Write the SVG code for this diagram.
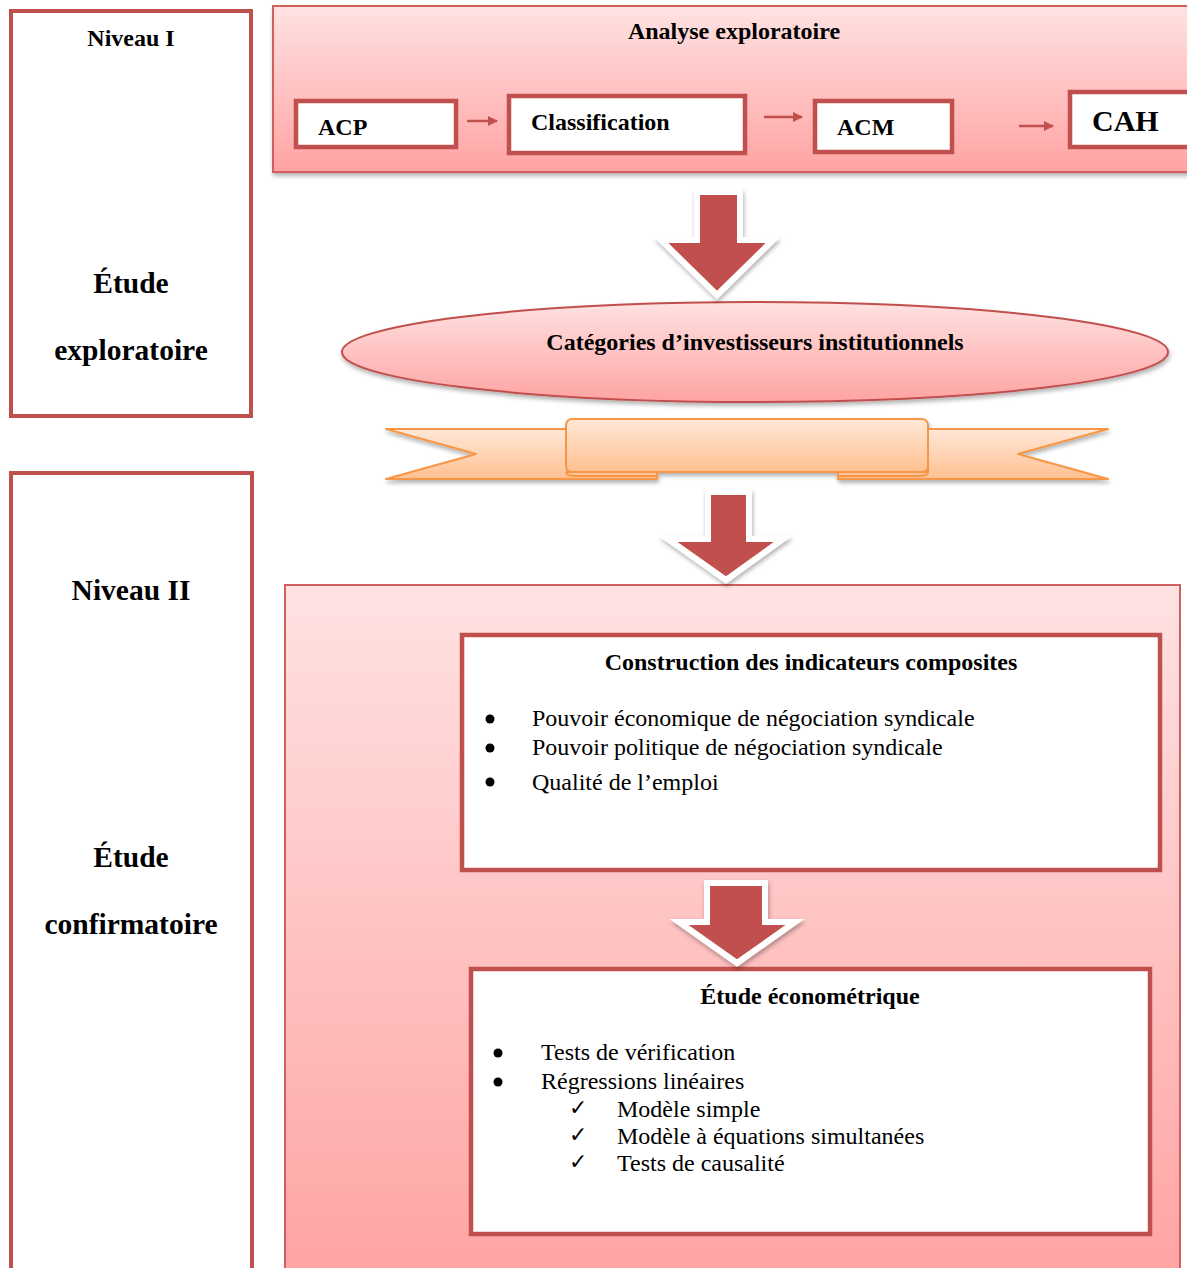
<svg xmlns="http://www.w3.org/2000/svg" width="1187" height="1268" viewBox="0 0 1187 1268">
<defs>
<linearGradient id="pink" x1="0" y1="0" x2="0" y2="1">
<stop offset="0" stop-color="#FFE2E2"/><stop offset="1" stop-color="#FFA3A3"/>
</linearGradient>
<linearGradient id="orange" x1="0" y1="0" x2="0" y2="1">
<stop offset="0" stop-color="#FFE8D8"/><stop offset="1" stop-color="#FFC090"/>
</linearGradient>
<filter id="sh" x="-10%" y="-10%" width="120%" height="130%">
<feDropShadow dx="1" dy="3" stdDeviation="2" flood-color="#000" flood-opacity="0.3"/>
</filter>
<marker id="ah" viewBox="0 0 10 10" refX="9" refY="5" markerWidth="4" markerHeight="4" orient="auto">
<path d="M0,0 L10,5 L0,10 z" fill="#C0504D"/>
</marker>
</defs>
<style>
.frame{fill:#fff;stroke:#C0504D;stroke-width:4}
.panel{fill:url(#pink);stroke:#D0605D;stroke-width:2}
.box{fill:#fff;stroke:#C0504D;stroke-width:4.5}
.t{font-family:"Liberation Serif","Times New Roman",serif;fill:#000}
.b{font-weight:bold}
.small{stroke:#C0504D;stroke-width:2.5;fill:none}
.big{fill:#C0504D;stroke:#fff;stroke-width:6;stroke-linejoin:miter}
.dot{fill:#000}
</style>
<rect width="1187" height="1268" fill="#fff"/>

<g id="niveau1">
<rect class="frame" x="11" y="11" width="240" height="405"/>
<text class="t b" x="131" y="46" font-size="24" text-anchor="middle">Niveau I</text>
<text class="t b" x="131" y="293" font-size="29.5" text-anchor="middle">Étude</text>
<text class="t b" x="131" y="360" font-size="29.5" text-anchor="middle">exploratoire</text>
</g>

<g id="niveau2">
<rect class="frame" x="11" y="473" width="241" height="810"/>
<text class="t b" x="131" y="600" font-size="29.5" text-anchor="middle">Niveau II</text>
<text class="t b" x="131" y="867" font-size="29.5" text-anchor="middle">Étude</text>
<text class="t b" x="131" y="934" font-size="29.5" text-anchor="middle">confirmatoire</text>
</g>

<g id="analyse">
<rect class="panel" x="273" y="6" width="930" height="166" filter="url(#sh)"/>
<text class="t b" x="734" y="39" font-size="24" text-anchor="middle">Analyse exploratoire</text>
</g>

<g id="acp">
<rect class="box" x="296" y="101" width="160" height="46"/>
<text class="t b" x="318" y="135" font-size="24">ACP</text>
</g>
<g id="classification">
<rect class="box" x="509" y="96" width="236" height="57"/>
<text class="t b" x="531" y="130" font-size="24">Classification</text>
</g>
<g id="acm">
<rect class="box" x="815" y="101" width="137" height="51"/>
<text class="t b" x="837" y="135" font-size="24">ACM</text>
</g>
<g id="cah">
<rect class="box" x="1070" y="92" width="130" height="55"/>
<text class="t b" x="1092" y="131" font-size="30">CAH</text>
</g>

<g id="categories">
<ellipse cx="755" cy="352" rx="413" ry="50" fill="url(#pink)" stroke="#C0504D" stroke-width="2" filter="url(#sh)"/>
<text class="t b" x="755" y="350" font-size="24" text-anchor="middle">Catégories d’investisseurs institutionnels</text>
</g>

<g id="ribbon" filter="url(#sh)">
<path d="M386,429 L567,429 L567,472 L657,472 L657,479 L386,479 L476,454 Z" fill="url(#orange)" stroke="#F79646" stroke-width="2" stroke-linejoin="round"/>
<path d="M1108,429 L928,429 L928,472 L838,472 L838,479 L1108,479 L1018,454 Z" fill="url(#orange)" stroke="#F79646" stroke-width="2" stroke-linejoin="round"/>
<rect x="566" y="419" width="362" height="53" rx="6" fill="url(#orange)" stroke="#F79646" stroke-width="2"/>
<path d="M566,472 Q566,476 575,476 L657,476" fill="none" stroke="#F79646" stroke-width="2"/>
<path d="M928,472 Q928,476 919,476 L838,476" fill="none" stroke="#F79646" stroke-width="2"/>
</g>

<g id="niveau2panel">
<rect class="panel" x="285" y="585" width="895" height="700"/>
</g>

<g id="construction">
<rect class="box" x="462" y="635" width="698" height="235"/>
<text class="t b" x="811" y="670" font-size="24" text-anchor="middle">Construction des indicateurs composites</text>
<circle class="dot" cx="490" cy="719" r="4.5"/>
<circle class="dot" cx="490" cy="748" r="4.5"/>
<circle class="dot" cx="490" cy="782" r="4.5"/>
<g class="t" font-size="24">
<text x="532" y="726">Pouvoir économique de négociation syndicale</text>
<text x="532" y="755">Pouvoir politique de négociation syndicale</text>
<text x="532" y="790">Qualité de l’emploi</text>
</g>
</g>

<g id="econometrique">
<rect class="box" x="471" y="969" width="679" height="265"/>
<text class="t b" x="810" y="1004" font-size="24" text-anchor="middle">Étude économétrique</text>
<circle class="dot" cx="498" cy="1053" r="4.5"/>
<circle class="dot" cx="498" cy="1082" r="4.5"/>
<g class="t" font-size="24">
<text x="541" y="1060">Tests de vérification</text>
<text x="541" y="1089">Régressions linéaires</text>
<text x="569" y="1115" font-size="22">✓</text><text x="617" y="1117">Modèle simple</text>
<text x="569" y="1142" font-size="22">✓</text><text x="617" y="1144">Modèle à équations simultanées</text>
<text x="569" y="1169" font-size="22">✓</text><text x="617" y="1171">Tests de causalité</text>
</g>
</g>

<g id="connectors">
<line class="small" x1="467" y1="121" x2="497" y2="121" marker-end="url(#ah)"/>
<line class="small" x1="764" y1="117" x2="802" y2="117" marker-end="url(#ah)"/>
<line class="small" x1="1019" y1="126" x2="1053" y2="126" marker-end="url(#ah)"/>
<path class="big" filter="url(#sh)" d="M697,192 L740,192 L740,240 L773,240 L717,295 L661,240 L697,240 Z"/>
<path class="big" filter="url(#sh)" d="M708,492 L749,492 L749,539 L783,539 L726,580 L668,539 L708,539 Z"/>
<path class="big" filter="url(#sh)" d="M707,883 L765,883 L765,922 L795,922 L737,963 L679,922 L707,922 Z"/>
</g>
</svg>
